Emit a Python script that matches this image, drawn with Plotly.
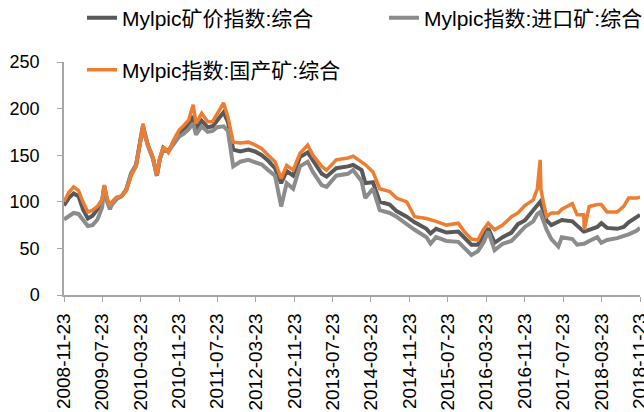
import plotly.graph_objects as go

dates = [
    "2008-11-23", "2008-12-23", "2009-01-23", "2009-02-23", "2009-03-23", "2009-04-23",
    "2009-05-23", "2009-06-23", "2009-07-23", "2009-08-05", "2009-08-23", "2009-09-10",
    "2009-09-23", "2009-10-23", "2009-11-23", "2009-12-23", "2010-01-23", "2010-02-23",
    "2010-03-23", "2010-04-08", "2010-04-23", "2010-05-10", "2010-06-10", "2010-07-05",
    "2010-07-23", "2010-08-15", "2010-09-15", "2010-10-18", "2010-11-23", "2010-12-23",
    "2011-01-23", "2011-02-20", "2011-03-10", "2011-04-15", "2011-05-23", "2011-06-23",
    "2011-07-23", "2011-09-01", "2011-09-28", "2011-11-01", "2011-12-15", "2012-02-05",
    "2012-03-18", "2012-04-30", "2012-06-10", "2012-07-23", "2012-08-31", "2012-10-05",
    "2012-11-15", "2012-12-28", "2013-02-15", "2013-03-20", "2013-05-15", "2013-06-15",
    "2013-08-15", "2013-10-28", "2013-11-30", "2014-01-23", "2014-02-15", "2014-04-05",
    "2014-05-18", "2014-07-20", "2014-09-01", "2014-11-05", "2014-12-25", "2015-03-10",
    "2015-04-05", "2015-05-10", "2015-07-15", "2015-09-28", "2015-11-05", "2015-12-20",
    "2016-01-30", "2016-03-05", "2016-04-05", "2016-05-15", "2016-07-05", "2016-08-30",
    "2016-10-10", "2016-11-23", "2017-01-15", "2017-02-10", "2017-02-28", "2017-03-05",
    "2017-03-20", "2017-04-10", "2017-05-10", "2017-06-23", "2017-07-15", "2017-09-20",
    "2017-10-20", "2017-12-01", "2017-12-05", "2018-01-05", "2018-02-25", "2018-03-23",
    "2018-04-28", "2018-07-01", "2018-08-12", "2018-09-12", "2018-11-01", "2018-11-23",
]

mylpic_composite = [
    96, 104, 109, 106, 92, 82,
    85, 92, 101, 117, 102, 94,
    99, 104, 106, 113, 130, 139,
    167, 182, 170, 160, 147, 128,
    146, 158, 154, 164, 174, 178,
    183, 192, 178, 187, 180, 181,
    188, 196, 186, 156, 154, 156,
    154, 150, 144, 136, 120, 133,
    128, 148, 153, 144, 130, 127,
    136, 138, 139.5, 134, 120, 121,
    100, 97, 90, 84, 78, 71,
    66, 71, 67, 68, 62, 54,
    54, 64, 71.5, 56, 62, 67,
    76, 80, 91, 97, 100, 98,
    90, 80, 75, 78, 80.5, 79,
    74, 68, 68, 70, 73, 77,
    72, 71, 73, 78, 84, 86,
]

mylpic_import = [
    81, 85, 88, 87, 80, 74,
    75, 81, 94, 116, 100, 92,
    97, 103, 106, 113, 131, 140,
    166, 180, 172, 160, 146, 128,
    145, 156, 154, 161, 170, 173,
    178, 184, 172, 181, 175, 176,
    180, 181, 176, 138, 143, 145,
    143, 140, 134, 128, 95, 120,
    114, 138, 143, 132, 118, 116,
    128, 130, 134, 122, 104, 114,
    91, 88, 84, 76, 70, 62,
    55, 62, 58, 57, 50, 43,
    47, 56, 68, 48, 55, 58,
    65, 73, 79, 87, 89, 86,
    80, 70, 60, 52, 62, 60,
    54, 55, 55, 58, 62, 56,
    59, 61, 63, 65, 69, 72,
]

mylpic_domestic = [
    100, 110, 116, 112, 100, 89,
    91, 95, 103, 118, 104, 96,
    100, 105, 106, 112, 128, 138,
    165, 184, 168, 160, 148, 129,
    147, 159, 153, 166, 177, 182,
    188, 204, 184, 195, 186, 186,
    195, 206, 191, 164, 163, 164,
    161, 157, 150, 143, 125, 139,
    134, 152, 161, 150, 138, 134,
    145, 147, 149, 143, 140, 132,
    114, 111, 104, 100, 84, 82,
    81, 79, 75, 77, 68, 60,
    59, 70, 77, 70, 75, 84,
    88, 96, 102, 114, 145, 113,
    100, 84, 88, 88, 92, 98,
    86, 86, 70, 95, 97, 97,
    89, 89, 95, 104, 104, 105,
]

series_names = ["Mylpic矿价指数:综合", "Mylpic指数:进口矿:综合", "Mylpic指数:国产矿:综合"]
tick_dates = [
    "2008-11-23", "2009-07-23", "2010-03-23", "2010-11-23", "2011-07-23", "2012-03-23",
    "2012-11-23", "2013-07-23", "2014-03-23", "2014-11-23", "2015-07-23", "2016-03-23",
    "2016-11-23", "2017-07-23", "2018-03-23", "2018-11-23",
]

FONT = "Liberation Sans, Noto Sans CJK SC, sans-serif"

fig = go.Figure()
fig.add_trace(go.Scatter(x=dates, y=mylpic_composite, mode="lines", name=series_names[0],
                         line=dict(color="#595959", width=4), legend="legend", showlegend=True))
fig.add_trace(go.Scatter(x=dates, y=mylpic_import, mode="lines", name=series_names[1],
                         line=dict(color="#8c8c8c", width=4), legend="legend2", showlegend=True))
fig.add_trace(go.Scatter(x=dates, y=mylpic_domestic, mode="lines", name=series_names[2],
                         line=dict(color="#ed7d31", width=3.5), legend="legend3", showlegend=True))

def leg(xpx, ypx):
    return dict(orientation="h", xref="container", yref="container",
                x=xpx / 644, y=1 - ypx / 412, xanchor="left", yanchor="middle",
                font=dict(size=21, color="#000000"), bgcolor="rgba(0,0,0,0)")

fig.update_layout(
    width=644, height=412,
    showlegend=True,
    margin=dict(l=64, r=4, t=62, b=117, autoexpand=False),
    paper_bgcolor="white", plot_bgcolor="white",
    font=dict(family=FONT, size=18, color="#000000"),
    legend=leg(82, 18),
    legend2=leg(384, 18),
    legend3=leg(82, 70),
    xaxis=dict(type="date", range=["2008-11-23", "2018-11-23"],
               tickvals=tick_dates, ticktext=tick_dates, tickangle=-90,
               showgrid=False, zeroline=False, showline=True, automargin=False,
               linecolor="#a6a6a6", linewidth=1.5,
               ticks="outside", ticklen=5, tickcolor="#a6a6a6",
               ticklabelstandoff=4, ticklabeloverflow="allow",
               tickfont=dict(size=19)),
    yaxis=dict(range=[0, 250], dtick=50, showgrid=False, zeroline=False,
               showline=True, linecolor="#a6a6a6", linewidth=1.5, automargin=False,
               ticks="outside", ticklen=5, tickcolor="#a6a6a6",
               ticklabelstandoff=14, tickfont=dict(size=18)),
)

fig.write_html("out.html", config={"displayModeBar": False},
               post_script="document.body.style.margin='0';")
